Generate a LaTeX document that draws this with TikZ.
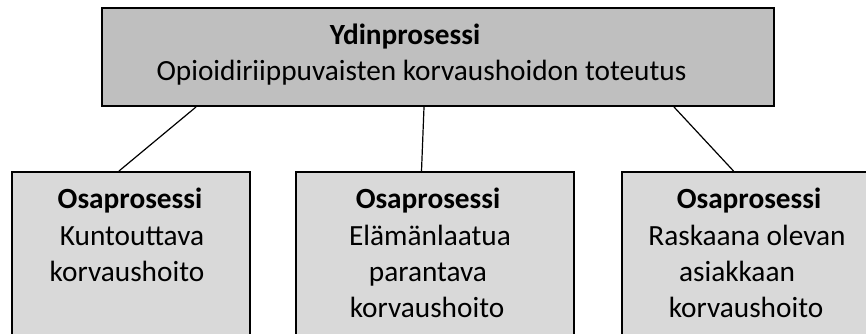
\documentclass[tikz,border=0pt]{standalone}
\usepackage{fontspec}
\setmainfont{Carlito}
\usetikzlibrary{calc}
\definecolor{topgray}{HTML}{BFBFBF}
\definecolor{subgray}{HTML}{D9D9D9}
\begin{document}
\begin{tikzpicture}[x=1pt,y=-1pt,
  box/.style={draw=black,line width=2pt,inner sep=0pt,anchor=north west},
  topbox/.style={box,fill=topgray,minimum width=672pt,minimum height=98pt},
  subbox/.style={box,fill=subgray,minimum height=200pt},
  txt/.style={anchor=base,inner sep=0pt,font=\fontsize{29.3}{36.5}\selectfont},
  boldtxt/.style={anchor=base,inner sep=0pt,font=\fontsize{29.3}{36.5}\selectfont\bfseries},
  conn/.style={draw=black,line width=1.2pt}]
\useasboundingbox (0,0) rectangle (866,334);
\clip (0,0) rectangle (866,334);
% boxes
\node[topbox] (top) at (101,7) {};
\node[subbox,minimum width=238pt] (left) at (11,171) {};
\node[subbox,minimum width=278pt] (mid) at (295,171) {};
\node[subbox,minimum width=300pt] (right) at (621,171) {};
% connector end points
\coordinate (c1a) at ($(top.south west)+(95,0)$);
\coordinate (c1b) at ($(left.north west)+(108,0)$);
\coordinate (c2a) at ($(top.south west)+(323,0)$);
\coordinate (c2b) at ($(mid.north west)+(126.5,0)$);
\coordinate (c3a) at ($(top.south west)+(573,0)$);
\coordinate (c3b) at ($(right.north west)+(112.5,0)$);
\draw[conn] (c1a) -- (c1b);
\draw[conn] (c2a) -- (c2b);
\draw[conn] (c3a) -- (c3b);
% texts top
\node[boldtxt] (t1) at (405,44.5) {Ydinprosessi};
\node[txt] (t2) at (421.5,81) {Opioidiriippuvaisten korvaushoidon toteutus};
% left
\node[boldtxt] (l1) at (130,208) {Osaprosessi};
\node[txt] (l2) at (132,245) {Kuntouttava};
\node[txt] (l3) at (127,281) {korvaushoito};
% middle
\node[boldtxt] (m1) at (428,208) {Osaprosessi};
\node[txt] (m2) at (430,245) {Elämänlaatua};
\node[txt] (m3) at (428,281) {parantava};
\node[txt] (m4) at (427,317) {korvaushoito};
% right
\node[boldtxt] (r1) at (749,208) {Osaprosessi};
\node[txt] (r2) at (747,245) {Raskaana olevan};
\node[txt] (r3) at (737,281) {asiakkaan};
\node[txt] (r4) at (746,317) {korvaushoito};
\end{tikzpicture}
\end{document}
